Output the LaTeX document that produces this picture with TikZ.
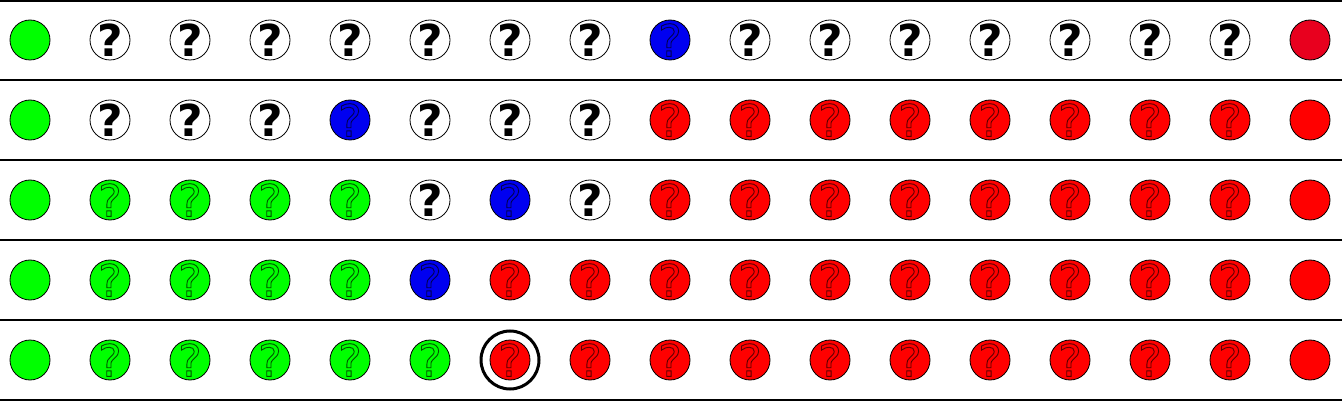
\documentclass[tikz,border=0pt]{standalone}
\usepackage{fontspec}
\newfontfamily\qfont{DejaVu Sans}
\newfontfamily\qofont[FakeBold=2]{DejaVu Sans}
\definecolor{cgreen}{RGB}{0,255,0}
\definecolor{cblue}{RGB}{0,0,240}
\definecolor{cred}{RGB}{255,0,0}
\definecolor{cred2}{RGB}{232,0,30}
\newcommand\ctr[1]{\makebox[0pt]{\raisebox{-0.5\height}[0pt][0pt]{#1}}}
\newcommand\qo[2]{\ctr{\special{pdf:bcolor #1 #2}{\qofont ?}\special{pdf:ecolor}}}
\tikzset{
  ball/.style={circle,draw=black,line width=0.8pt,minimum size=40pt,inner sep=0pt,
    font=\qfont\fontsize{44}{44}\selectfont},
  stG/.style={fill=cgreen,node contents={}},
  stR/.style={fill=cred,node contents={}},
  stX/.style={fill=cred2,node contents={}},
  stW/.style={fill=white,node contents={\ctr{\bfseries ?}}},
  stB/.style={fill=cblue,node contents={\qo{[0 0 0.94]}{[0 0 0.3]}}},
  stg/.style={fill=cgreen,node contents={\qo{[0 1 0]}{[0 0.3 0]}}},
  str/.style={fill=cred,node contents={\qo{[1 0 0]}{[0.35 0 0]}}},
  rule/.style={line width=2pt,black},
}
\newcommand\ballrow[2]{%
  \foreach \t [count=\i from 0] in {#2}{%
    \node[ball,st\t,name=c-#1-\i,at={(30+80*\i,{40+80*(#1-1)})}];
  }%
}
\begin{document}
\begin{tikzpicture}[x=1pt,y=-1pt]
\useasboundingbox (0,0) rectangle (1342,401);
\fill[white] (0,0) rectangle (1342,401);
\foreach \yy in {1,80,160,240,320,400}{
  \draw[rule] (0,\yy) -- (1342,\yy);
}
\ballrow{1}{G,W,W,W,W,W,W,W,B,W,W,W,W,W,W,W,X}
\ballrow{2}{G,W,W,W,B,W,W,W,r,r,r,r,r,r,r,r,R}
\ballrow{3}{G,g,g,g,g,W,B,W,r,r,r,r,r,r,r,r,R}
\ballrow{4}{G,g,g,g,g,B,r,r,r,r,r,r,r,r,r,r,R}
\ballrow{5}{G,g,g,g,g,g,r,r,r,r,r,r,r,r,r,r,R}
\node[circle,draw=black,line width=3pt,minimum size=58pt,inner sep=0pt] (ring) at (c-5-6) {};
\end{tikzpicture}
\end{document}
